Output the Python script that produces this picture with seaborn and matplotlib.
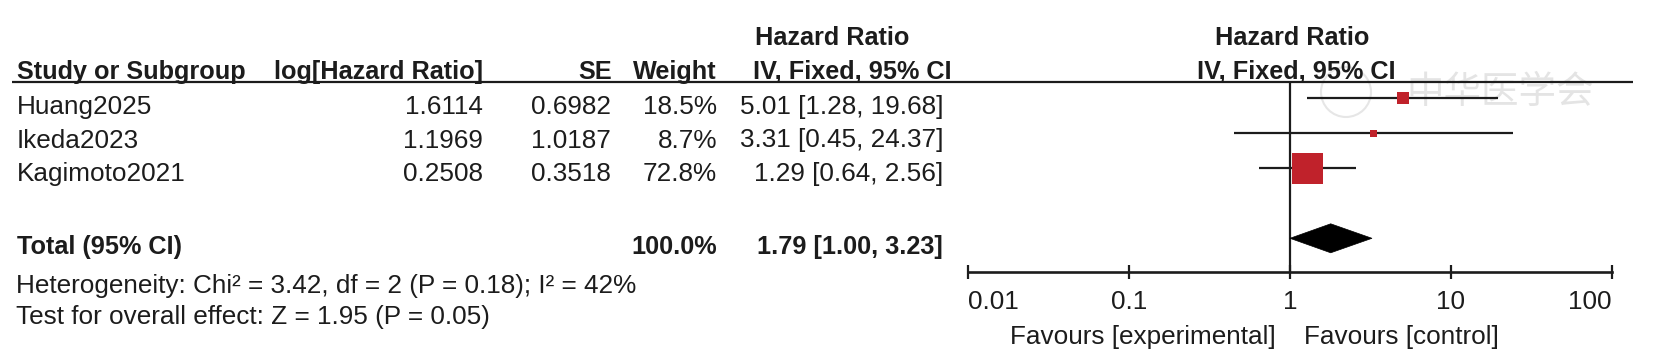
import numpy as np
import pandas as pd
import matplotlib
matplotlib.use("Agg")
import matplotlib.pyplot as plt
import seaborn as sns
from matplotlib.patches import Polygon, Circle
from matplotlib.ticker import NullLocator

# ---------------- data ----------------
studies = ["Huang2025", "Ikeda2023", "Kagimoto2021"]
log_hr = [1.6114, 1.1969, 0.2508]
se = [0.6982, 1.0187, 0.3518]
weight = [18.5, 8.7, 72.8]
hr = [5.01, 3.31, 1.29]
ci_low = [1.28, 0.45, 0.64]
ci_high = [19.68, 24.37, 2.56]

total_label = "Total (95% CI)"
total_weight = 100.0
total_hr = 1.79
total_low = 1.00
total_high = 3.23

heterogeneity = "Heterogeneity: Chi\u00b2 = 3.42, df = 2 (P = 0.18); I\u00b2 = 42%"
overall = "Test for overall effect: Z = 1.95 (P = 0.05)"

axis_ticks = [0.01, 0.1, 1, 10, 100]
axis_tick_labels = ["0.01", "0.1", "1", "10", "100"]
favours_left = "Favours [experimental]"
favours_right = "Favours [control]"
header_cols = ["Study or Subgroup", "log[Hazard Ratio]", "SE", "Weight"]
header_top = "Hazard Ratio"
header_method = "IV, Fixed, 95% CI"
watermark = "中华医学会"

# ---------------- layout / style ----------------
W, H = 1655, 359
sns.set_theme(style="white")
plt.rcParams["font.family"] = ["Liberation Sans", "DejaVu Sans"]

FS = 18.8      # regular text
FSB = 18.2     # bold text
TXT = "#1c1c1c"
RED = "#c0222b"
LW = 1.6

fig = plt.figure(figsize=(W / 100, H / 100), dpi=100)
fig.patch.set_facecolor("white")
bg = fig.add_axes([0, 0, 1, 1])
bg.set_xlim(0, W)
bg.set_ylim(H, 0)
bg.axis("off")

# watermark (faint)
bg.text(1500, 92, watermark, fontsize=27, color="#e4e4e4", ha="center", va="center",
        family=["Noto Sans CJK SC", "DejaVu Sans"], zorder=0)
bg.add_patch(Circle((1346, 92), 25, fill=False, ec="#e6e6e6", lw=1.5, zorder=0))

# header line
hdr_y = 81.7
bg.plot([12, 1633], [hdr_y, hdr_y], color=TXT, lw=LW, solid_capstyle="butt")

# column positions (pixels)
x_study = 17
x_log = 483
x_se = 611
x_wt = 717
x_ci = 943

def t(x, y, s, ha="left", bold=False, **kw):
    bg.text(x, y, s, ha=ha, va="baseline", fontsize=FSB if bold else FS, color=TXT,
            fontweight="bold" if bold else "normal", **kw)

# headers
t(755, 45, header_top, bold=True)
t(1292, 45, header_top, ha="center", bold=True)
t(x_study, 79, header_cols[0], bold=True)
t(x_log, 79, header_cols[1], ha="right", bold=True)
t(x_se + 1, 79, header_cols[2], ha="right", bold=True)
t(x_wt, 79, header_cols[3], ha="right", bold=True)
t(753, 79, header_method, bold=True)
t(1296, 79, header_method, ha="center", bold=True)

# study rows
for i, name in enumerate(studies):
    yb = 114 + 33.5 * i
    t(x_study, yb, name)
    t(x_log, yb, f"{log_hr[i]:.4f}", ha="right")
    t(x_se, yb, f"{se[i]:.4f}", ha="right")
    t(x_wt, yb, f"{weight[i]:.1f}%", ha="right")
    t(x_ci, yb, f"{hr[i]:.2f} [{ci_low[i]:.2f}, {ci_high[i]:.2f}]", ha="right")

# total + footnotes
t(x_study, 254, total_label, bold=True)
t(x_wt, 254, f"{total_weight:.1f}%", ha="right", bold=True)
t(x_ci, 254, f"{total_hr:.2f} [{total_low:.2f}, {total_high:.2f}]", ha="right", bold=True)
t(16, 293, heterogeneity)
t(16, 324, overall)

# favours labels
t(1276, 344, favours_left, ha="right")
t(1304, 344, favours_right, ha="left")

# ---------------- forest panel ----------------
x0, x1 = 968, 1612
y_axis = 272.3
row0, row_step = 98.3, 35.0
ax = fig.add_axes([x0 / W, 1 - y_axis / H, (x1 - x0) / W, (y_axis - hdr_y) / H])
ax.patch.set_alpha(0)
ax.set_xscale("log")
ax.set_xlim(0.01, 100)
ax.set_ylim((y_axis - row0) / row_step, (hdr_y - row0) / row_step)

rows = np.arange(len(studies))
ax.hlines(rows, ci_low, ci_high, color=TXT, lw=LW, zorder=2)

df = pd.DataFrame({"study": studies, "hr": hr, "row": rows, "weight": weight})
side_px = {s: 31 * (w / max(weight)) ** 0.7 for s, w in zip(studies, weight)}
sizes = {s: (p * 72 / 100) ** 2 for s, p in side_px.items()}
sns.scatterplot(data=df, x="hr", y="row", size="study", sizes=sizes, marker="s",
                color=RED, linewidth=0, legend=False, ax=ax, zorder=3)

total_row = 4
dh = 14.5 / row_step
ax.add_patch(Polygon([(total_low, total_row), (total_hr, total_row - dh),
                      (total_high, total_row), (total_hr, total_row + dh)],
                     closed=True, fc="black", ec="black", lw=0.5, zorder=3))

ax.axvline(1, color=TXT, lw=LW, zorder=1)

for side in ["top", "left", "right"]:
    ax.spines[side].set_visible(False)
ax.spines["bottom"].set_color(TXT)
ax.spines["bottom"].set_linewidth(LW + 0.3)
ax.set_xticks(axis_ticks)
ax.set_xticklabels(axis_tick_labels)
ax.xaxis.set_minor_locator(NullLocator())
ax.tick_params(axis="x", which="major", direction="inout", length=10, width=LW,
               color=TXT, labelsize=FS, labelcolor=TXT, pad=7.5, bottom=True)
ax.set_yticks([])
ax.set_xlabel("")
ax.set_ylabel("")
labs = ax.get_xticklabels()
labs[0].set_ha("left")
labs[-1].set_ha("right")

fig.savefig("out.png", dpi=100, facecolor="white")
